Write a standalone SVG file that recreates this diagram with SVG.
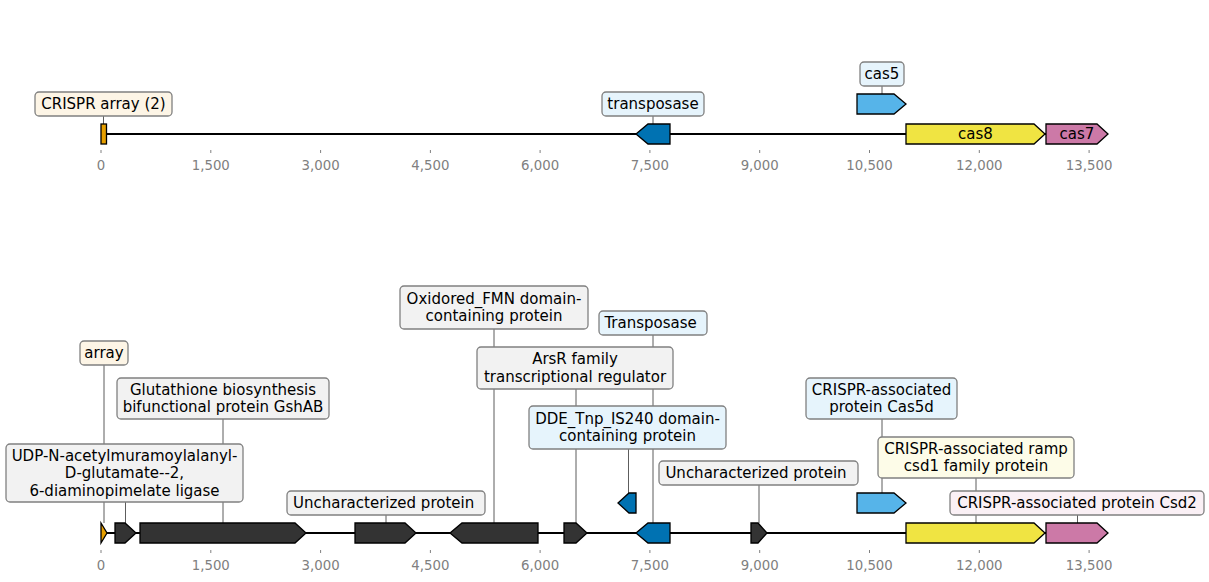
<svg xmlns="http://www.w3.org/2000/svg" width="1209" height="582" viewBox="0 0 1209 582">
<style>
text{font-family:"DejaVu Sans","Liberation Sans",sans-serif;}
.lab{font-size:15px;fill:#000;text-anchor:middle;}
.tk{font-size:13.3px;fill:#808080;text-anchor:middle;}
.tick{stroke:#808080;stroke-width:1;}
.track{stroke:#000;stroke-width:2;fill:none;}
.lead{stroke:#333;stroke-width:0.8;fill:none;}
.feat{stroke:#000;stroke-width:1.3;stroke-linejoin:miter;}
.box{stroke:#808080;stroke-width:1.3;}
.orange{fill:#E69F00;}
.dblue{fill:#0072B2;}
.sblue{fill:#56B4E9;}
.yellow{fill:#F0E442;}
.pink{fill:#CC79A7;}
.dark{fill:#333333;}
.bcream{fill:#fdf5e6;}
.bblue{fill:#e6f4fc;}
.bgrey{fill:#f2f2f2;}
.byellow{fill:#fdfce8;}
.bpink{fill:#faf0f5;}
</style>
<rect width="1209" height="582" fill="#fff"/>

<g id="axis-top">
<line class="track" x1="101" y1="134" x2="1108" y2="134"/>
<g class="tick">
<line x1="101" y1="150" x2="101" y2="153"/><line x1="210.8" y1="150" x2="210.8" y2="153"/><line x1="320.6" y1="150" x2="320.6" y2="153"/><line x1="430.4" y1="150" x2="430.4" y2="153"/><line x1="540.1" y1="150" x2="540.1" y2="153"/><line x1="649.9" y1="150" x2="649.9" y2="153"/><line x1="759.7" y1="150" x2="759.7" y2="153"/><line x1="869.5" y1="150" x2="869.5" y2="153"/><line x1="979.3" y1="150" x2="979.3" y2="153"/><line x1="1089.1" y1="150" x2="1089.1" y2="153"/>
</g>
<text class="tk" x="101" y="170">0</text><text class="tk" x="210.8" y="170">1,500</text><text class="tk" x="320.6" y="170">3,000</text><text class="tk" x="430.4" y="170">4,500</text><text class="tk" x="540.1" y="170">6,000</text><text class="tk" x="649.9" y="170">7,500</text><text class="tk" x="759.7" y="170">9,000</text><text class="tk" x="869.5" y="170">10,500</text><text class="tk" x="979.3" y="170">12,000</text><text class="tk" x="1089.1" y="170">13,500</text>
</g>

<g id="axis-bottom">
<line class="track" x1="101" y1="533" x2="1108" y2="533"/>
<g class="tick">
<line x1="101" y1="550" x2="101" y2="553"/><line x1="210.8" y1="550" x2="210.8" y2="553"/><line x1="320.6" y1="550" x2="320.6" y2="553"/><line x1="430.4" y1="550" x2="430.4" y2="553"/><line x1="540.1" y1="550" x2="540.1" y2="553"/><line x1="649.9" y1="550" x2="649.9" y2="553"/><line x1="759.7" y1="550" x2="759.7" y2="553"/><line x1="869.5" y1="550" x2="869.5" y2="553"/><line x1="979.3" y1="550" x2="979.3" y2="553"/><line x1="1089.1" y1="550" x2="1089.1" y2="553"/>
</g>
<text class="tk" x="101" y="570">0</text><text class="tk" x="210.8" y="570">1,500</text><text class="tk" x="320.6" y="570">3,000</text><text class="tk" x="430.4" y="570">4,500</text><text class="tk" x="540.1" y="570">6,000</text><text class="tk" x="649.9" y="570">7,500</text><text class="tk" x="759.7" y="570">9,000</text><text class="tk" x="869.5" y="570">10,500</text><text class="tk" x="979.3" y="570">12,000</text><text class="tk" x="1089.1" y="570">13,500</text>
</g>

<g id="connectors">
<line class="lead" x1="103.5" y1="116" x2="103.5" y2="124"/>
<line class="lead" x1="653" y1="116" x2="653" y2="124"/>
<line class="lead" x1="882" y1="86" x2="882" y2="94"/>
<line class="lead" x1="104" y1="365" x2="104" y2="523"/>
<line class="lead" x1="125.5" y1="502" x2="125.5" y2="523"/>
<line class="lead" x1="223" y1="419" x2="223" y2="523"/>
<line class="lead" x1="386" y1="515" x2="386" y2="523"/>
<line class="lead" x1="494" y1="329" x2="494" y2="523"/>
<line class="lead" x1="576" y1="389" x2="576" y2="523"/>
<line class="lead" x1="628.5" y1="449" x2="628.5" y2="493"/>
<line class="lead" x1="653" y1="335" x2="653" y2="523"/>
<line class="lead" x1="759" y1="485" x2="759" y2="523"/>
<line class="lead" x1="882" y1="419" x2="882" y2="493"/>
<line class="lead" x1="976" y1="478" x2="976" y2="523"/>
<line class="lead" x1="1077.5" y1="515" x2="1077.5" y2="523"/>
</g>

<!-- Top track -->
<g id="t-crispr-array">
<rect class="feat orange" x="101" y="124" width="5.5" height="20"/>
<rect class="box bcream" x="35" y="92" width="137" height="24" rx="4"/>
<text class="lab" x="103.5" y="109">CRISPR array (2)</text>
</g>
<g id="t-transposase">
<polygon class="feat dblue" points="636,134 648,124 670,124 670,144 648,144"/>
<rect class="box bblue" x="602" y="92" width="102" height="24" rx="4"/>
<text class="lab" x="653" y="109">transposase</text>
</g>
<g id="t-cas5">
<polygon class="feat sblue" points="857,94 894,94 906,104 894,114 857,114"/>
<rect class="box bblue" x="860" y="62" width="44" height="24" rx="4"/>
<text class="lab" x="882" y="79">cas5</text>
</g>
<g id="t-cas8">
<polygon class="feat yellow" points="906,124 1034,124 1045,134 1034,144 906,144"/>
<text class="lab" x="975.5" y="139">cas8</text>
</g>
<g id="t-cas7">
<polygon class="feat pink" points="1046,124 1097,124 1108,134 1097,144 1046,144"/>
<text class="lab" x="1077" y="139">cas7</text>
</g>

<!-- Bottom track -->
<g id="b-array">
<polygon class="feat orange" points="101,523 107,533 101,543"/>
<rect class="box bcream" x="80" y="341" width="48" height="24" rx="4"/>
<text class="lab" x="104" y="358">array</text>
</g>
<g id="b-glutathione">
<polygon class="feat dark" points="140,523 295,523 306,533 295,543 140,543"/>
<rect class="box bgrey" x="117" y="378" width="212" height="41" rx="4"/>
<text class="lab" x="223" y="394.8">Glutathione biosynthesis</text>
<text class="lab" x="223" y="412.3">bifunctional protein GshAB</text>
</g>
<g id="b-udp-ligase">
<polygon class="feat dark" points="115,523 125,523 136,533 125,543 115,543"/>
<rect class="box bgrey" x="6" y="444" width="237" height="58" rx="4"/>
<text class="lab" x="124.5" y="460.5">UDP-N-acetylmuramoylalanyl-</text>
<text class="lab" x="124.5" y="478">D-glutamate--2,</text>
<text class="lab" x="124.5" y="495.5">6-diaminopimelate ligase</text>
</g>
<g id="b-uncharacterized-1">
<polygon class="feat dark" points="355,523 405,523 416,533 405,543 355,543"/>
<rect class="box bgrey" x="287" y="491" width="198" height="24" rx="4"/>
<text class="lab" x="383.6" y="508">Uncharacterized protein</text>
</g>
<g id="b-oxidored">
<polygon class="feat dark" points="450,533 462,523 538,523 538,543 462,543"/>
<rect class="box bgrey" x="400" y="286" width="188" height="43" rx="4"/>
<text class="lab" x="494" y="303.8">Oxidored_FMN domain-</text>
<text class="lab" x="494" y="321.3">containing protein</text>
</g>
<g id="b-arsr">
<polygon class="feat dark" points="564,523 576,523 587,533 576,543 564,543"/>
<rect class="box bgrey" x="477" y="347" width="196" height="42" rx="4"/>
<text class="lab" x="575" y="364.3">ArsR family</text>
<text class="lab" x="575" y="381.8">transcriptional regulator</text>
</g>
<g id="b-dde-tnp">
<polygon class="feat dblue" points="618,503 629,493 636,493 636,513 629,513"/>
<rect class="box bblue" x="529" y="406" width="197" height="43" rx="4"/>
<text class="lab" x="627.5" y="423.8">DDE_Tnp_IS240 domain-</text>
<text class="lab" x="627.5" y="441.3">containing protein</text>
</g>
<g id="b-transposase">
<polygon class="feat dblue" points="636,533 648,523 670,523 670,543 648,543"/>
<rect class="box bblue" x="599" y="311" width="108" height="24" rx="4"/>
<text class="lab" x="650.6" y="328">Transposase</text>
</g>
<g id="b-uncharacterized-2">
<polygon class="feat dark" points="751,523 758,523 767,533 758,543 751,543"/>
<rect class="box bgrey" x="659" y="461" width="199" height="24" rx="4"/>
<text class="lab" x="756" y="478">Uncharacterized protein</text>
</g>
<g id="b-cas5d">
<polygon class="feat sblue" points="857,493 894,493 906,503 894,513 857,513"/>
<rect class="box bblue" x="806" y="378" width="151" height="41" rx="4"/>
<text class="lab" x="881.5" y="394.8">CRISPR-associated</text>
<text class="lab" x="881.5" y="412.3">protein Cas5d</text>
</g>
<g id="b-csd1">
<polygon class="feat yellow" points="906,523 1034,523 1045,533 1034,543 906,543"/>
<rect class="box byellow" x="878" y="437" width="196" height="41" rx="4"/>
<text class="lab" x="976" y="453.8">CRISPR-associated ramp</text>
<text class="lab" x="976" y="471.3">csd1 family protein</text>
</g>
<g id="b-csd2">
<polygon class="feat pink" points="1046,523 1097,523 1108,533 1097,543 1046,543"/>
<rect class="box bpink" x="950" y="491" width="254" height="24" rx="4"/>
<text class="lab" x="1077" y="508">CRISPR-associated protein Csd2</text>
</g>
</svg>
